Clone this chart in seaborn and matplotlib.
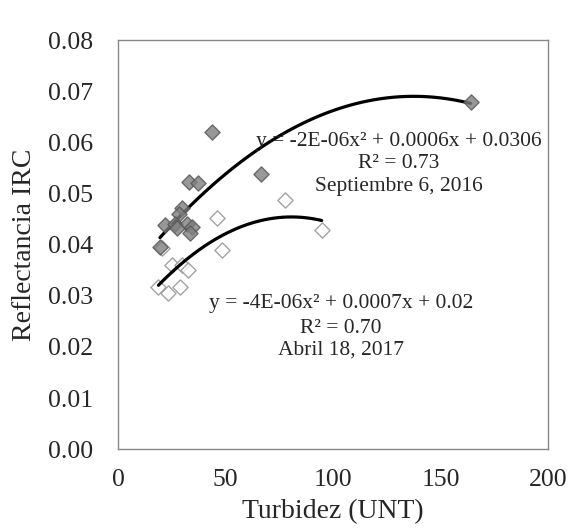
import matplotlib
matplotlib.use("Agg")
import matplotlib.pyplot as plt
import seaborn as sns
import numpy as np

# Septiembre 6, 2016 (filled diamonds)
turb_sep = [43.6, 66.4, 33.2, 37.3, 29.6, 28.5, 21.9, 26.5, 32.2, 34.3, 33.5, 27.3, 19.5, 164.0]
refl_sep = [0.0620, 0.0539, 0.0523, 0.0520, 0.0471, 0.0460, 0.0438, 0.0441, 0.0441, 0.0435,
            0.0422, 0.0432, 0.0396, 0.0679]

# Abril 18, 2017 (open diamonds)
turb_abr = [20.3, 25.0, 29.6, 32.7, 18.8, 23.4, 28.8, 48.2, 45.9, 77.7, 94.7]
refl_abr = [0.0393, 0.0360, 0.0360, 0.0350, 0.0318, 0.0305, 0.0318, 0.0389, 0.0453, 0.0487, 0.0428]

eq_sep = ["y = -2E-06x² + 0.0006x + 0.0306", "R² = 0.73", "Septiembre 6, 2016"]
eq_abr = ["y = -4E-06x² + 0.0007x + 0.02", "R² = 0.70", "Abril 18, 2017"]

sns.set_style("white")
plt.rcParams["font.family"] = ["Liberation Serif", "DejaVu Serif"]

fig = plt.figure(figsize=(5.71, 5.29), dpi=100)
ax = fig.add_axes([0.2067, 0.151, 0.753, 0.773])

sns.regplot(x=turb_sep, y=refl_sep, order=2, ci=None, marker="D", ax=ax,
            scatter_kws=dict(s=60, color="#7f7f7f", edgecolor="#555555", linewidths=1.0, zorder=3),
            line_kws=dict(color="black", lw=2.3, zorder=2))
sns.regplot(x=turb_abr, y=refl_abr, order=2, ci=None, marker="D", ax=ax,
            scatter_kws=dict(s=60, color="white", edgecolor="#8c8c8c", linewidths=1.0, zorder=1),
            line_kws=dict(color="black", lw=2.3, zorder=2))

ax.set_xlim(0, 200)
ax.set_ylim(0, 0.08)
ax.set_xticks(np.arange(0, 201, 50))
ax.set_yticks(np.arange(0, 0.081, 0.01))
ax.set_yticklabels([f"{v:.2f}" for v in np.arange(0, 0.081, 0.01)])
ax.tick_params(direction="in", length=7, width=1, color="#888888", labelsize=18.5)
ax.tick_params(axis="y", pad=18)
ax.tick_params(axis="x", pad=14)
for sp in ax.spines.values():
    sp.set_color("#888888")
    sp.set_linewidth(1)

ax.set_xlabel("Turbidez (UNT)", fontsize=20, labelpad=6)
ax.set_ylabel("Reflectancia IRC", fontsize=20, labelpad=8)

for txt, yy in zip(eq_sep, [0.753, 0.699, 0.643]):
    ax.text(0.653, yy, txt, transform=ax.transAxes, ha="center", va="center", fontsize=15.5)
for txt, yy in zip(eq_abr, [0.355, 0.296, 0.242]):
    ax.text(0.519, yy, txt, transform=ax.transAxes, ha="center", va="center", fontsize=15.5)

fig.savefig("out.png", dpi=100)
